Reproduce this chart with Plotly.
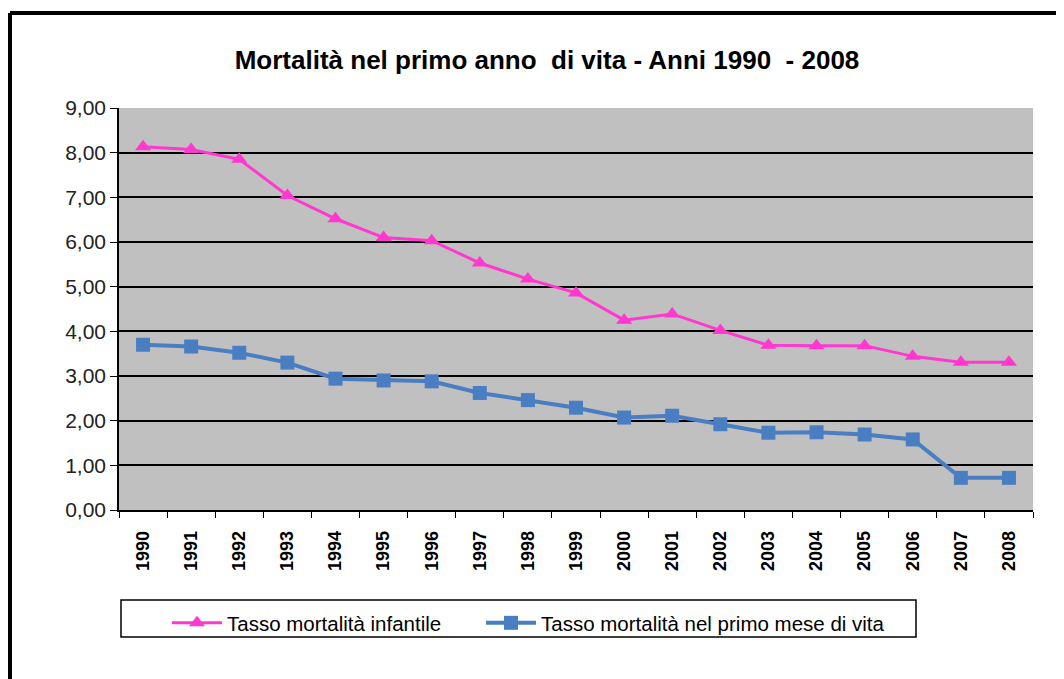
import plotly.graph_objects as go

# anni e tassi
anni = [str(a) for a in range(1990, 2009)]
tasso_infantile = [8.13, 8.07, 7.85, 7.04, 6.52, 6.10, 6.03, 5.53, 5.17, 4.86,
                   4.25, 4.39, 4.02, 3.69, 3.68, 3.68, 3.44, 3.31, 3.31]
tasso_primo_mese = [3.70, 3.66, 3.52, 3.30, 2.94, 2.90, 2.88, 2.62, 2.46, 2.29,
                    2.07, 2.11, 1.92, 1.73, 1.74, 1.69, 1.58, 0.72, 0.72]
y_ticks = [0, 1, 2, 3, 4, 5, 6, 7, 8, 9]

# the page puts the figure 8px in from the corner, so shrink and shift
OFF = 8
W, H = 1064 - OFF, 679 - OFF
L, R, T, B = 119, 1033, 108, 510   # plot area, in reference pixels

def px_x(x):
    return (x - L) / (R - L)

def px_y(y):
    return (B - y) / (B - T)

fig = go.Figure()
fig.add_trace(go.Scatter(
    x=anni, y=tasso_infantile, name='Tasso mortalità infantile',
    mode='lines+markers', line=dict(color='#FF38CF', width=3),
    marker=dict(symbol='triangle-up', size=14, color='#FF38CF'), legend='legend'))
fig.add_trace(go.Scatter(
    x=anni, y=tasso_primo_mese, name='Tasso mortalità nel primo mese di vita',
    mode='lines+markers', line=dict(color='#4A7EC2', width=4),
    marker=dict(symbol='square', size=14, color='#4A7EC2'), legend='legend2'))

# cornice esterna (solo lato sinistro e superiore visibili)
fig.add_shape(type='line', xref='paper', yref='paper', x0=px_x(10), x1=px_x(1080),
              y0=px_y(13), y1=px_y(13), line=dict(color='black', width=4))
fig.add_shape(type='line', xref='paper', yref='paper', x0=px_x(10), x1=px_x(10),
              y0=px_y(13), y1=px_y(700), line=dict(color='black', width=4))
# riquadro legenda
fig.add_shape(type='rect', xref='paper', yref='paper', x0=px_x(121), x1=px_x(916),
              y0=px_y(600), y1=px_y(637), line=dict(color='black', width=1.5),
              fillcolor='white', layer='below')

leg = dict(orientation='h', xanchor='left', yanchor='top', y=px_y(603),
           bgcolor='rgba(0,0,0,0)', borderwidth=0, itemwidth=50,
           font=dict(size=20.5, color='black'))

fig.update_layout(
    width=W, height=H,
    margin=dict(l=L - OFF, r=1064 - R, t=T - OFF, b=679 - B),
    paper_bgcolor='white', plot_bgcolor='#C0C0C0',
    separators=',.',
    font=dict(family='Liberation Sans, Arial', color='black'),
    title=dict(text='<b>Mortalità nel primo anno  di vita - Anni 1990  - 2008</b>',
               x=px_x(547), xref='paper', xanchor='center',
               y=1 - (60 - OFF) / H, yref='container', yanchor='middle',
               font=dict(size=26, color='black')),
    showlegend=True,
    legend=dict(leg, x=px_x(167)),
    legend2=dict(leg, x=px_x(481)),
)
fig.update_xaxes(
    type='category', showgrid=False, showline=True, linecolor='black', linewidth=1.5,
    ticks='outside', tickson='boundaries', ticklen=6, tickcolor='black',
    tickangle=-90, tickfont=dict(size=18, color='black', family='Liberation Sans, Arial'),
    ticklabelstandoff=12, mirror=False, zeroline=False,
    tickprefix='<b>', ticksuffix='</b>')
fig.update_xaxes(range=[-0.5, len(anni) - 0.5])
fig.update_yaxes(
    range=[0, 9], tickvals=y_ticks, tickformat='.2f', showgrid=True,
    gridcolor='black', gridwidth=1.5, showline=True, linecolor='black', linewidth=1.5,
    ticks='outside', ticklen=7, tickcolor='black', zeroline=False,
    tickfont=dict(size=21, color='#222222'), ticklabelstandoff=0)

fig.write_html('out.html')
